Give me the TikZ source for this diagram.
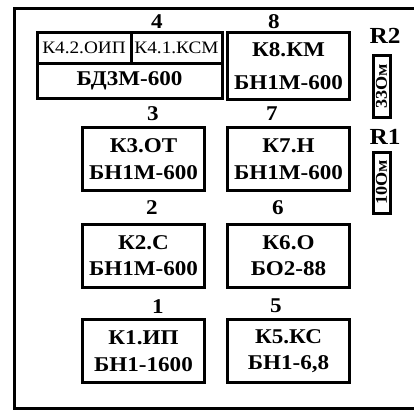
\documentclass[tikz,border=0pt]{standalone}
\usepackage{fontspec}
\setmainfont{Liberation Serif}[FakeStretch=1.1]
\usepackage{tikz}
\usetikzlibrary{positioning}

\begin{document}
\begin{tikzpicture}[x=1pt,y=-1pt,
  box/.style={draw,line width=3pt,outer sep=0pt,inner sep=0pt,minimum width=122,minimum height=63,align=center,font=\fontsize{21}{26.5}\selectfont\bfseries},
  cell/.style={draw,line width=3pt,outer sep=0pt,inner sep=0pt},
  num/.style={font=\fontsize{21}{21}\selectfont\bfseries},
  res/.style={draw,line width=3pt,outer sep=0pt,inner sep=0pt,rotate=90,minimum height=17,font=\fontsize{16.5}{16.5}\selectfont\bfseries}]
\useasboundingbox (0,0) rectangle (414,412);
\draw[line width=3pt] (414,9) -- (14,9) -- (14,408) -- (414,408);
% block 4
\node[cell,minimum width=94,minimum height=30,font=\fontsize{17.5}{17.5}\selectfont] (k42) at (84,48) {К4.2.ОИП};
\node[cell,minimum width=91,minimum height=30,font=\fontsize{17.5}{17.5}\selectfont,right=0pt of k42] (k41) {К4.1.КСМ};
\node[cell,anchor=north west,minimum width=185,minimum height=35,font=\fontsize{21}{21}\selectfont\bfseries] (bd) at (k42.south west) {БД3М-600};
\node[num] (n4) at (157,22) {4};
% left column
\node[box] (k3) at (143.5,159) {К3.ОТ\\БН1М-600};
\node[box] (k2) at (143.5,255.5) {К2.С\\БН1М-600};
\node[box] (k1) at (143.5,351) {К1.ИП\\БН1-1600};
\node[num] (n3) at (153,114) {3};
\node[num] (n2) at (152,208) {2};
\node[num] (n1) at (158,307) {1};
% right column
\node[box,minimum height=66] (k8) at (288.5,66) {К8.КМ\\[6pt]БН1М-600};
\node[box] (k7) at (288.5,159) {К7.Н\\БН1М-600};
\node[box] (k6) at (288.5,255.5) {К6.О\\БО2-88};
\node[box] (k5) at (288.5,351) {К5.КС\\БН1-6,8};
\node[num] (n8) at (274,22) {8};
\node[num] (n7) at (272,114) {7};
\node[num] (n6) at (278,208) {6};
\node[num] (n5) at (276,306) {5};
% resistors
\node[num,font=\fontsize{23}{23}\selectfont\bfseries] (r2l) at (385,36) {R2};
\node[res,minimum width=62] (r2) at (381.5,86) {33Ом};
\node[num,font=\fontsize{23}{23}\selectfont\bfseries] (r1l) at (385,137) {R1};
\node[res,minimum width=61] (r1) at (381.5,182.5) {10Ом};
\end{tikzpicture}
\end{document}
